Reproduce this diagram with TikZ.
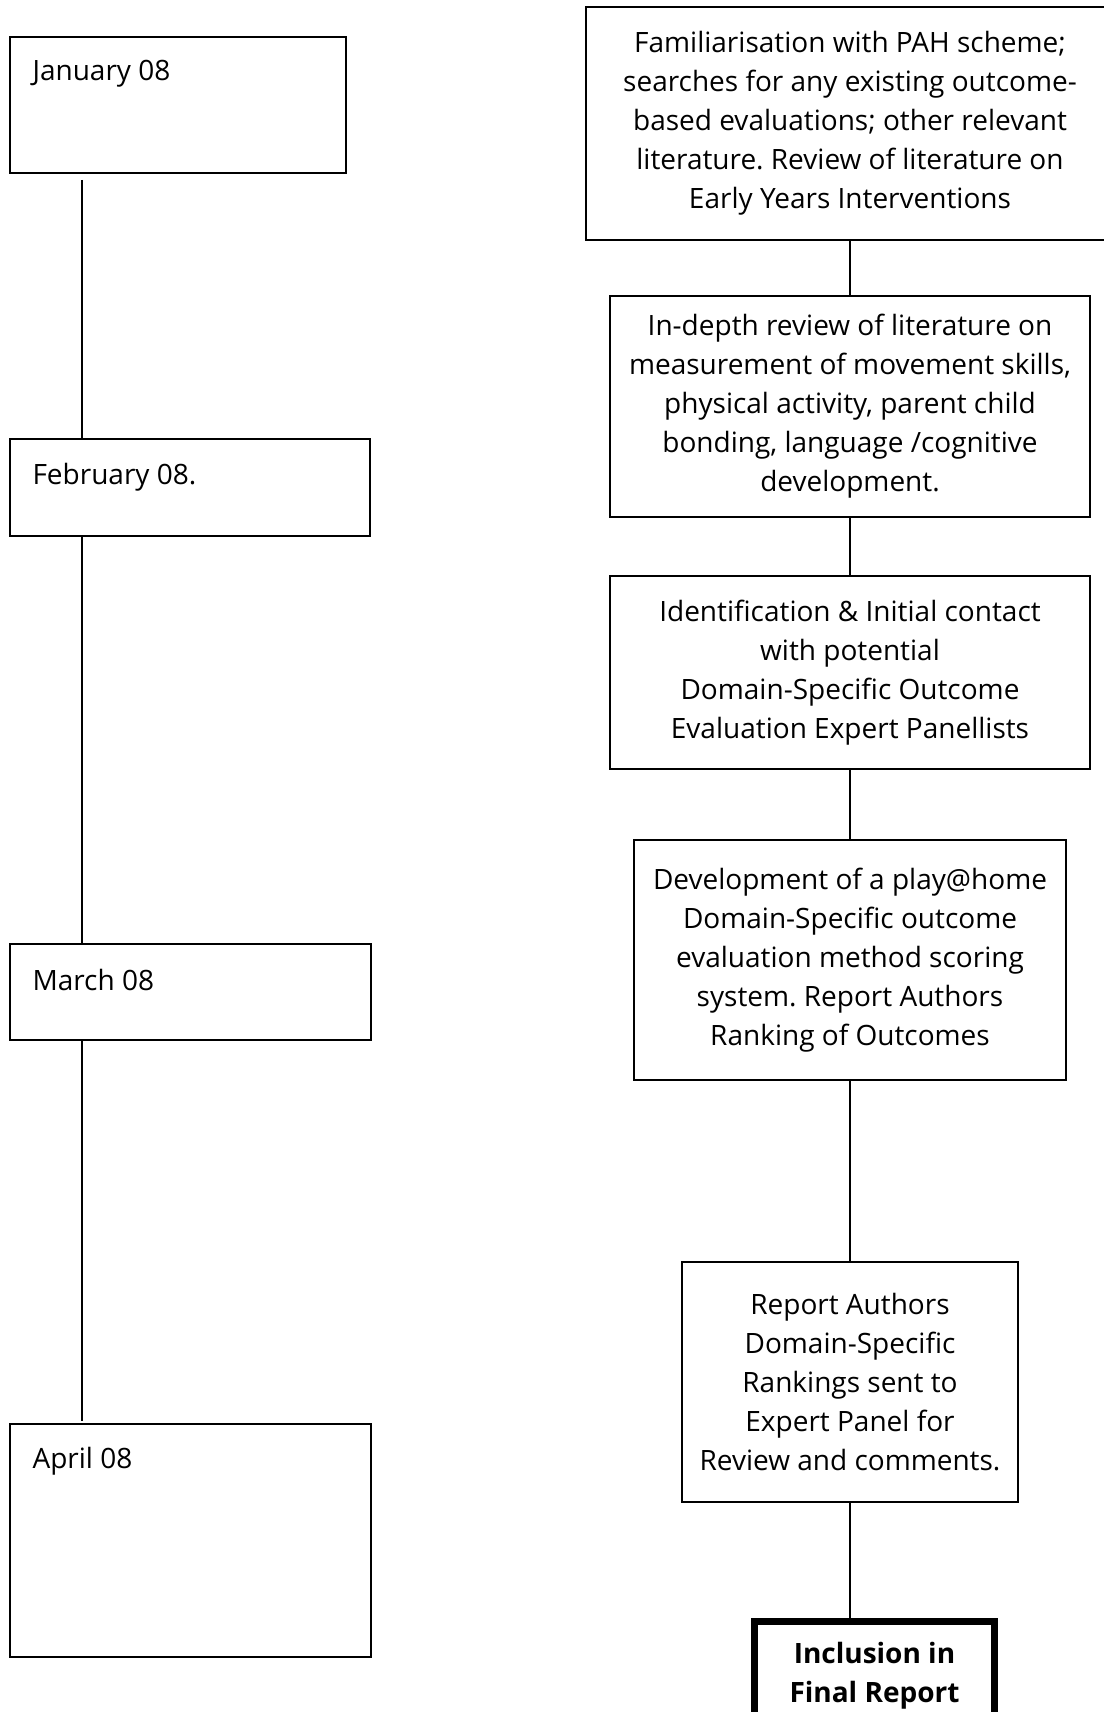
\documentclass[tikz,border=0pt]{standalone}
\usepackage{fontspec}
\setmainfont{Open Sans}
\usetikzlibrary{positioning}
\frenchspacing

\begin{document}
\begin{tikzpicture}[x=1pt,y=-1pt,font=\fontsize{28}{39}\selectfont,
    month/.style={draw,line width=1.6pt,inner sep=0pt,outer sep=0pt,anchor=north west},
    stage/.style={draw,line width=1.6pt,inner sep=0pt,outer sep=0pt,align=center},
    link/.style={line width=1.5pt}]
  \useasboundingbox (0,0) rectangle (1103,1712);
  % months
  \node[month,minimum width=336pt,minimum height=136pt,
    label={[anchor=west,xshift=19pt,yshift=-37pt]north west:January 08}] (jan) at (10,37) {};
  \node[month,minimum width=360pt,minimum height=97pt,
    label={[anchor=west,xshift=19pt,yshift=-38pt]north west:February 08.}] (feb) at (10,439) {};
  \node[month,minimum width=361pt,minimum height=96pt,
    label={[anchor=west,xshift=19pt,yshift=-36pt]north west:March 08}] (mar) at (10,944) {};
  \node[month,minimum width=361pt,minimum height=233pt,
    label={[anchor=west,xshift=19pt,yshift=-37pt]north west:April 08}] (apr) at (10,1424) {};
  \draw[link] ([xshift=72pt,yshift=-7pt]jan.south west) -- ([xshift=72pt]feb.north west);
  \draw[link] ([xshift=72pt]feb.south west) -- ([xshift=72pt]mar.north west);
  \draw[link] ([xshift=72pt]mar.south west) -- ([xshift=72pt,yshift=3pt]apr.north west);
  % stages
  \node[stage,anchor=north,minimum width=528pt,minimum height=233pt] (lit) at (850,7)
    {Familiarisation with PAH scheme;\\searches for any existing outcome-\\based evaluations; other relevant\\literature. Review of literature on\\Early Years Interventions};
  \node[stage,minimum width=480pt,minimum height=221pt,below=56pt of lit] (indepth)
    {In-depth review of literature on\\measurement of movement skills,\\physical activity, parent child\\bonding, language /cognitive\\development.};
  \node[stage,minimum width=480pt,minimum height=193pt,below=59pt of indepth] (contact)
    {Identification \& Initial contact\\with potential\\Domain-Specific Outcome\\Evaluation Expert Panellists};
  \node[stage,minimum width=432pt,minimum height=240pt,below=71pt of contact] (scoring)
    {Development of a play@home\\Domain-Specific outcome\\evaluation method scoring\\system. Report Authors\\Ranking of Outcomes};
  \node[stage,minimum width=336pt,minimum height=240pt,below=182pt of scoring] (panel)
    {Report Authors\\Domain-Specific\\Rankings sent to\\Expert Panel for\\Review and comments.};
  \node[stage,line width=7pt,font=\fontsize{28}{39}\selectfont\bfseries,
    minimum width=240pt,minimum height=110pt,
    below=119pt of panel,xshift=24.5pt] (final) {Inclusion in\\Final Report};
  \draw[link] (lit) -- (indepth);
  \draw[link] (indepth) -- (contact);
  \draw[link] (contact) -- (scoring);
  \draw[link] (scoring) -- (panel);
  \draw[link] (panel.south) -- (panel.south |- final.north);
\end{tikzpicture}
\end{document}
